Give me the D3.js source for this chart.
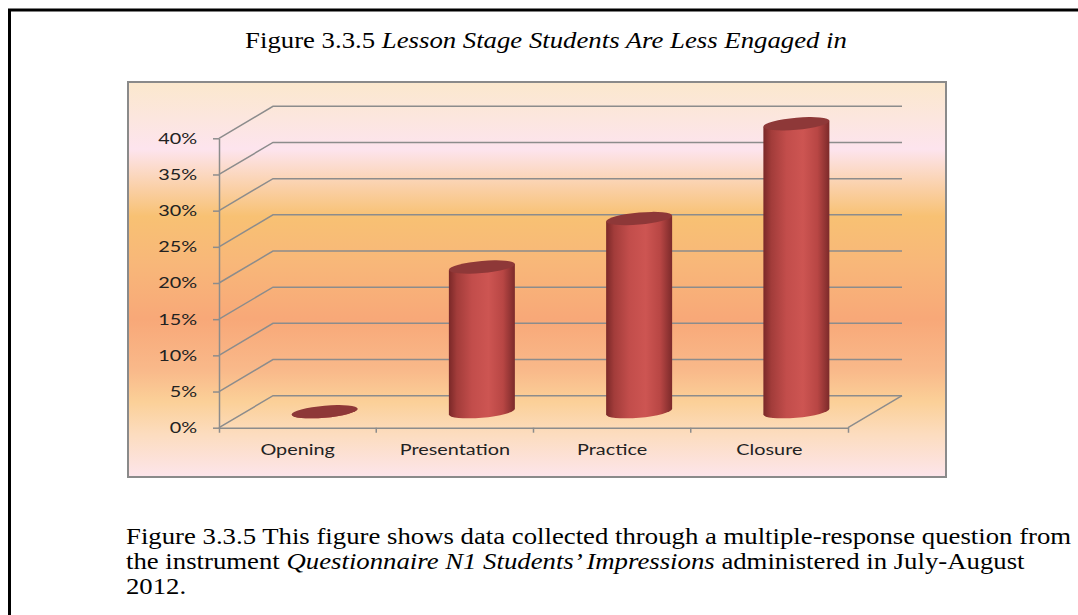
<!DOCTYPE html>
<html>
<head>
<meta charset="utf-8">
<script src="https://cdn.jsdelivr.net/npm/d3@7"></script>
<style>
  body { margin: 0; background: #fff; }
  .serif { font-family: "Liberation Serif", "Times New Roman", serif; fill: #000; font-size: 24px; }
  .lbl { font-family: Lato, "Open Sans", sans-serif; font-size: 15.5px; fill: #222; }
</style>
</head>
<body>
<div class="svg-container"></div>
<script>
// chart data
var categories = ["Opening", "Presentation", "Practice", "Closure"];
var values = [0, 20, 26.7, 39.8];
var yTicks = [0, 5, 10, 15, 20, 25, 30, 35, 40];

// texts
var titleNumber = "Figure 3.3.5 ";
var titleItalic = "Lesson Stage Students Are Less Engaged in";
var captionLines = [
  [["Figure 3.3.5 This figure shows data collected through a multiple-response question from", false]],
  [["the instrument ", false], ["Questionnaire N1 Students\u2019 Impressions", true], [" administered in July-August", false]],
  [["2012.", false]]
];

var W = 1078, H = 615;
var stretch = 1.28;          // chart labels look horizontally stretched
var textStretch = 1.115;     // so does the document text
var depth = { dx: 54, dy: -32 };

var svg = d3.select(".svg-container").append("svg")
  .attr("width", W)
  .attr("height", H);

var defs = svg.append("defs");

// background of the chart area
var bg = defs.append("linearGradient").attr("id", "bg")
  .attr("x1", 0).attr("y1", 0).attr("x2", 0).attr("y2", 1);
[[0, "#fbe8cd"], [0.09, "#fce6de"], [0.17, "#fde4ee"], [0.24, "#fbd6bb"],
 [0.34, "#f8c173"], [0.46, "#f8b779"], [0.6, "#f8a878"], [0.73, "#f9b98a"],
 [0.81, "#fbd098"], [0.89, "#fcdcbe"], [1, "#fde5eb"]].forEach(function(s) {
  bg.append("stop").attr("offset", s[0]).attr("stop-color", s[1]);
});

// cylinder body shading
var body = defs.append("linearGradient").attr("id", "cyl")
  .attr("x1", 0).attr("y1", 0).attr("x2", 1).attr("y2", 0);
[[0, "#7a2828"], [0.12, "#a23c3a"], [0.35, "#c24d4b"], [0.6, "#cd5552"],
 [0.82, "#b84644"], [1, "#7c2a2a"]].forEach(function(s) {
  body.append("stop").attr("offset", s[0]).attr("stop-color", s[1]);
});

// outer page frame
svg.append("rect")
  .attr("x", 9.5).attr("y", 10)
  .attr("width", 1100).attr("height", 700)
  .attr("fill", "none").attr("stroke", "#000").attr("stroke-width", 3);

// title
var title = svg.append("text").attr("class", "serif")
  .attr("transform", "translate(546,47.5) scale(" + textStretch + ",1)")
  .attr("text-anchor", "middle");
title.append("tspan").text(titleNumber);
title.append("tspan").style("font-style", "italic").text(titleItalic);

// chart area
svg.append("rect")
  .attr("x", 128).attr("y", 82)
  .attr("width", 818).attr("height", 395)
  .attr("fill", "url(#bg)")
  .attr("stroke", "#8a8a8a").attr("stroke-width", 2);

var x = d3.scaleBand().domain(categories).range([219, 848]);
var y = d3.scaleLinear().domain([0, 40]).range([427.7, 138.3]);

var gridColor = "#8c8c8c";

// wall gridlines: diagonal on the side wall, then across the back wall
svg.append("g").selectAll("path")
  .data(yTicks)
  .join("path")
  .attr("d", function(d) {
    var x0 = x.range()[0], yy = y(d);
    return "M" + x0 + "," + yy +
      "L" + (x0 + depth.dx) + "," + (yy + depth.dy) +
      "L" + (x.range()[1] + depth.dx) + "," + (yy + depth.dy);
  })
  .attr("fill", "none")
  .attr("stroke", gridColor)
  .attr("stroke-width", 1.5);

// floor right edge
svg.append("line")
  .attr("x1", x.range()[1]).attr("y1", y(0))
  .attr("x2", x.range()[1] + depth.dx).attr("y2", y(0) + depth.dy)
  .attr("stroke", gridColor).attr("stroke-width", 1.5);

// y axis
var yAxis = svg.append("g")
  .attr("transform", "translate(" + x.range()[0] + ",0)")
  .call(d3.axisLeft(y).tickValues(yTicks).tickFormat(function(d) { return d + "%"; })
    .tickSize(6).tickSizeOuter(0).tickPadding(11));
yAxis.select(".domain").attr("stroke", gridColor).attr("stroke-width", 1.5);
yAxis.selectAll(".tick line").attr("stroke", gridColor).attr("stroke-width", 1.5);
yAxis.selectAll(".tick text").attr("class", "lbl")
  .attr("transform", "scale(" + stretch + ",1)");

// x axis
var xAxis = svg.append("g")
  .attr("transform", "translate(0," + y(0) + ")")
  .call(d3.axisBottom(x).tickSize(0).tickSizeOuter(5).tickPadding(16));
xAxis.select(".domain").attr("stroke", gridColor).attr("stroke-width", 1.5);
xAxis.selectAll(".tick text").attr("class", "lbl")
  .attr("transform", "scale(" + stretch + ",1)");
xAxis.selectAll(".sep")
  .data(categories.slice(1))
  .join("line")
  .attr("class", "sep")
  .attr("x1", function(d) { return x(d); }).attr("x2", function(d) { return x(d); })
  .attr("y1", 0).attr("y2", 5)
  .attr("stroke", gridColor).attr("stroke-width", 1.5);

// cylinders
var rx = 33, ry = 6;
var bars = svg.append("g").selectAll("g")
  .data(categories.map(function(c, i) { return { cat: c, v: values[i] }; }))
  .join("g")
  .attr("transform", function(d) {
    var cx = x(d.cat) + x.bandwidth() / 2 + depth.dx / 2;
    return "translate(" + cx + "," + (depth.dy / 2) + ") skewY(-5)";
  });

bars.append("path")
  .attr("d", function(d) {
    var yb = y(0), yt = y(d.v);
    return "M" + (-rx) + "," + yt + "L" + (-rx) + "," + yb +
      "A" + rx + "," + ry + " 0 0 0 " + rx + "," + yb +
      "L" + rx + "," + yt + "Z";
  })
  .attr("fill", "url(#cyl)");

bars.append("ellipse")
  .attr("cx", 0)
  .attr("cy", function(d) { return y(d.v); })
  .attr("rx", rx).attr("ry", ry)
  .attr("fill", "#8e3838");

// caption below the chart
var cap = svg.append("g");
captionLines.forEach(function(line, i) {
  var t = cap.append("text").attr("class", "serif")
    .attr("transform", "translate(126," + (544 + i * 25) + ") scale(" + textStretch + ",1)");
  line.forEach(function(part) {
    t.append("tspan").style("font-style", part[1] ? "italic" : "normal").text(part[0]);
  });
});
</script>
</body>
</html>
